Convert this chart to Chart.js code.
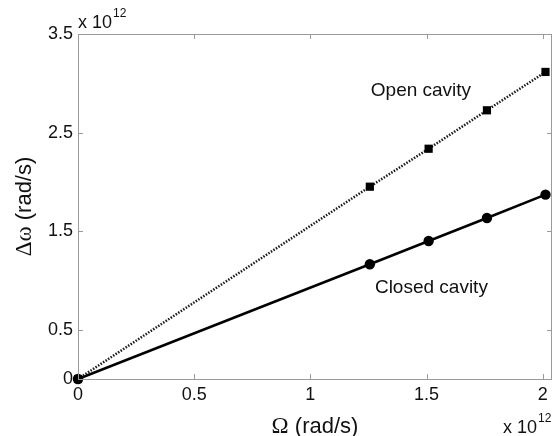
<!DOCTYPE html>
<html>
<head>
<meta charset="utf-8">
<script src="https://cdn.jsdelivr.net/npm/chart.js@4"></script>
<style>
html,body{margin:0;padding:0;background:#fff;}
#wrap{width:554px;height:436px;position:relative;}
</style>
</head>
<body>
<div id="wrap"><canvas id="c"></canvas></div>
<script>
// Data (values in rad/s)
const omega = [0, 1.256e12, 1.509e12, 1.760e12, 2.012e12];
const openCavity = [0, 1.951e12, 2.336e12, 2.726e12, 3.115e12];
const closedCavity = [0, 1.164e12, 1.400e12, 1.633e12, 1.870e12];
const xTicks = [0, 0.5e12, 1.0e12, 1.5e12, 2.0e12];
const yTicks = [0, 0.5e12, 1.5e12, 2.5e12, 3.5e12];
const SCALE = 1e12;

const SANS = '"Liberation Sans", Arial, sans-serif';
const SERIF = '"Liberation Serif", "Times New Roman", serif';

function fmt(v){ return String(Math.round(v / SCALE * 100) / 100); }

const framePlugin = {
  id: 'frame',
  afterDatasetsDraw(chart) {
    const ctx = chart.ctx;
    const a = chart.chartArea;
    const xs = chart.scales.x, ys = chart.scales.y;
    ctx.save();
    ctx.strokeStyle = '#9a9a9a';
    ctx.lineWidth = 1;
    ctx.strokeRect(Math.round(a.left) + 0.5, Math.round(a.top) + 0.5,
                   Math.round(a.right - a.left) - 1, Math.round(a.bottom - a.top));
    const tl = 5;
    ctx.beginPath();
    xs.ticks.forEach(t => {
      const px = Math.round(xs.getPixelForValue(t.value)) + 0.5;
      ctx.moveTo(px, a.bottom); ctx.lineTo(px, a.bottom - tl);
      ctx.moveTo(px, a.top); ctx.lineTo(px, a.top + tl);
    });
    ys.ticks.forEach(t => {
      const py = Math.round(ys.getPixelForValue(t.value)) + 0.5;
      ctx.moveTo(a.left, py); ctx.lineTo(a.left + tl, py);
      ctx.moveTo(a.right, py); ctx.lineTo(a.right - tl, py);
    });
    ctx.stroke();
    ctx.restore();
  },
  afterDraw(chart) {
    const ctx = chart.ctx;
    const a = chart.chartArea;
    const xs = chart.scales.x, ys = chart.scales.y;
    ctx.save();
    ctx.fillStyle = '#111';
    ctx.textBaseline = 'alphabetic';
    function expo(x, y) {
      ctx.font = '18px ' + SANS;
      ctx.textAlign = 'left';
      ctx.fillText('x 10', x, y);
      const w = ctx.measureText('x 10').width;
      ctx.font = '12px ' + SANS;
      ctx.fillText('12', x + w + 1, y - 11);
    }
    expo(a.left, 28);
    expo(503, 433);

    function mixed(parts, cx, cy, rotate) {
      ctx.save();
      ctx.translate(cx, cy);
      if (rotate) ctx.rotate(-Math.PI / 2);
      let total = 0;
      parts.forEach(p => { ctx.font = p[1]; total += ctx.measureText(p[0]).width; });
      let x = -total / 2;
      ctx.textAlign = 'left';
      parts.forEach(p => { ctx.font = p[1]; ctx.fillText(p[0], x, 0); x += ctx.measureText(p[0]).width; });
      ctx.restore();
    }
    mixed([['\u03A9', '23px ' + SERIF], [' (rad/s)', '22px ' + SANS]], (a.left + a.right) / 2, 433, false);
    mixed([['\u0394\u03C9', '23px ' + SERIF], [' (rad/s)', '22px ' + SANS]], 31, (a.top + a.bottom) / 2, true);

    ctx.font = '19px ' + SANS;
    ctx.textAlign = 'center';
    ctx.textBaseline = 'middle';
    const ann = chart.options.plugins.frame.labels;
    ann.forEach(l => {
      ctx.fillText(l.text, xs.getPixelForValue(l.x), ys.getPixelForValue(l.y));
    });
    ctx.restore();
  }
};

new Chart(document.getElementById('c'), {
  type: 'line',
  data: {
    datasets: [
      {
        label: 'Open cavity',
        data: omega.map((x, i) => ({x: x, y: openCavity[i]})),
        borderColor: '#1a1a1a',
        backgroundColor: '#000',
        borderWidth: 2.5,
        borderDash: [1.5, 1.5],
        pointStyle: 'rect',
        pointRadius: 5.8,
        pointBorderWidth: 0,
        fill: false,
        tension: 0,
        clip: false
      },
      {
        label: 'Closed cavity',
        data: omega.map((x, i) => ({x: x, y: closedCavity[i]})),
        borderColor: '#000',
        backgroundColor: '#000',
        borderWidth: 2.5,
        pointStyle: 'circle',
        pointRadius: 5.2,
        pointBorderWidth: 0,
        fill: false,
        tension: 0,
        clip: false
      }
    ]
  },
  options: {
    responsive: true,
    maintainAspectRatio: false,
    animation: false,
    devicePixelRatio: 1,
    layout: {autoPadding: false, padding: {top: 34, right: 2, left: 0, bottom: 0}},
    plugins: {
      legend: {display: false},
      tooltip: {enabled: false},
      frame: {
        labels: [
          {text: 'Open cavity', x: 1.476e12, y: 2.92e12},
          {text: 'Closed cavity', x: 1.521e12, y: 0.93e12}
        ]
      }
    },
    scales: {
      x: {
        type: 'linear',
        min: 0,
        max: 2.04e12,
        grid: {display: false, drawTicks: false},
        border: {display: false},
        afterBuildTicks: s => { s.ticks = xTicks.map(v => ({value: v})); },
        afterFit: s => { s.height = 57; s.paddingLeft = 0; s.paddingRight = 0; },
        ticks: {
          color: '#111',
          font: {family: SANS, size: 18},
          padding: 5,
          maxRotation: 0,
          autoSkip: false,
          callback: v => fmt(v)
        }
      },
      y: {
        type: 'linear',
        min: 0,
        max: 3.5e12,
        grid: {display: false, drawTicks: false},
        border: {display: false},
        afterBuildTicks: s => { s.ticks = yTicks.map(v => ({value: v})); },
        afterFit: s => { s.width = 78; s.paddingTop = 0; s.paddingBottom = 0; },
        ticks: {
          color: '#111',
          font: {family: SANS, size: 18},
          padding: 5,
          autoSkip: false,
          callback: v => fmt(v)
        }
      }
    }
  },
  plugins: [framePlugin]
});
</script>
</body>
</html>
